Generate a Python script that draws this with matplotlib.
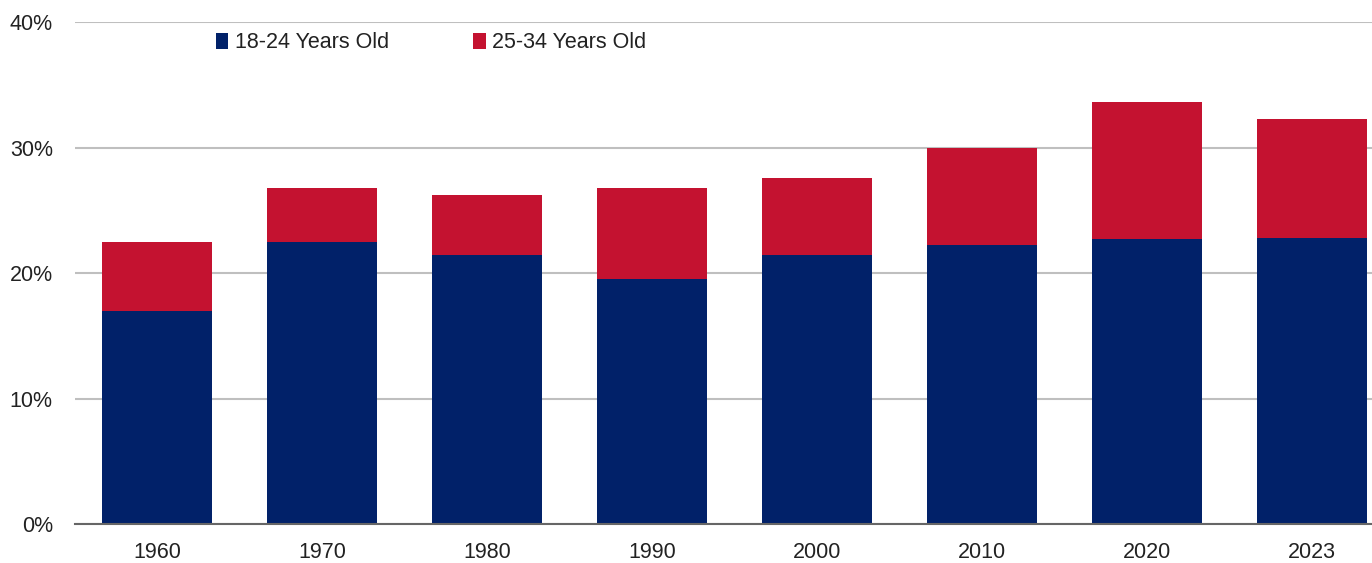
import matplotlib
matplotlib.use("Agg")
import matplotlib.pyplot as plt
from matplotlib.patches import Patch
from matplotlib.ticker import FuncFormatter

years = ["1960", "1970", "1980", "1990", "2000", "2010", "2020", "2023"]
age_18_24 = [17.0, 22.5, 21.4, 19.5, 21.4, 22.2, 22.7, 22.8]
age_25_34 = [5.5, 4.3, 4.8, 7.3, 6.2, 7.8, 10.9, 9.5]
series_labels = ["18-24 Years Old", "25-34 Years Old"]

NAVY = "#012169"
RED = "#C41230"
TEXT = "#222222"
FS = 15.5

plt.rcParams["font.family"] = ["Liberation Sans", "DejaVu Sans"]

fig = plt.figure(figsize=(13.72, 5.63), dpi=100)
ax = fig.add_axes([75 / 1372, 1 - 524 / 563, 1 - 75 / 1372, (524 - 22) / 563])

x = list(range(len(years)))
width = 0.667
ax.bar(x, age_18_24, width=width, color=NAVY, zorder=3, label=series_labels[0])
ax.bar(x, age_25_34, width=width, bottom=age_18_24, color=RED, zorder=3,
       label=series_labels[1])

ax.set_xlim(-0.5, 7.364)
ax.set_ylim(0, 40)
ax.set_yticks([0, 10, 20, 30, 40])
ax.yaxis.set_major_formatter(FuncFormatter(lambda v, _: f"{v:.0f}%"))
ax.set_xticks(x)
ax.set_xticklabels(years)

ax.grid(axis="y", color="#bfbfbf", linewidth=1.5, zorder=0)
ax.set_axisbelow(True)
for side in ["top", "right", "left"]:
    ax.spines[side].set_visible(False)
ax.spines["bottom"].set_color("#666666")
ax.spines["bottom"].set_linewidth(1.5)
ax.spines["bottom"].set_zorder(4)

ax.tick_params(axis="both", length=0, labelsize=FS, colors=TEXT)
ax.tick_params(axis="y", pad=16)
ax.tick_params(axis="x", pad=13)

handles = [Patch(facecolor=NAVY, label=series_labels[0]),
           Patch(facecolor=RED, label=series_labels[1])]
ax.legend(handles=handles, loc="center left", ncol=2, frameon=False,
          bbox_to_anchor=(216 / 1372, 1 - 43 / 563), bbox_transform=fig.transFigure,
          fontsize=FS, handlelength=0.58, handleheight=0.7, handletextpad=0.3,
          columnspacing=3.9, labelcolor=TEXT, borderaxespad=0, borderpad=0)

fig.savefig("out.png", dpi=100)
